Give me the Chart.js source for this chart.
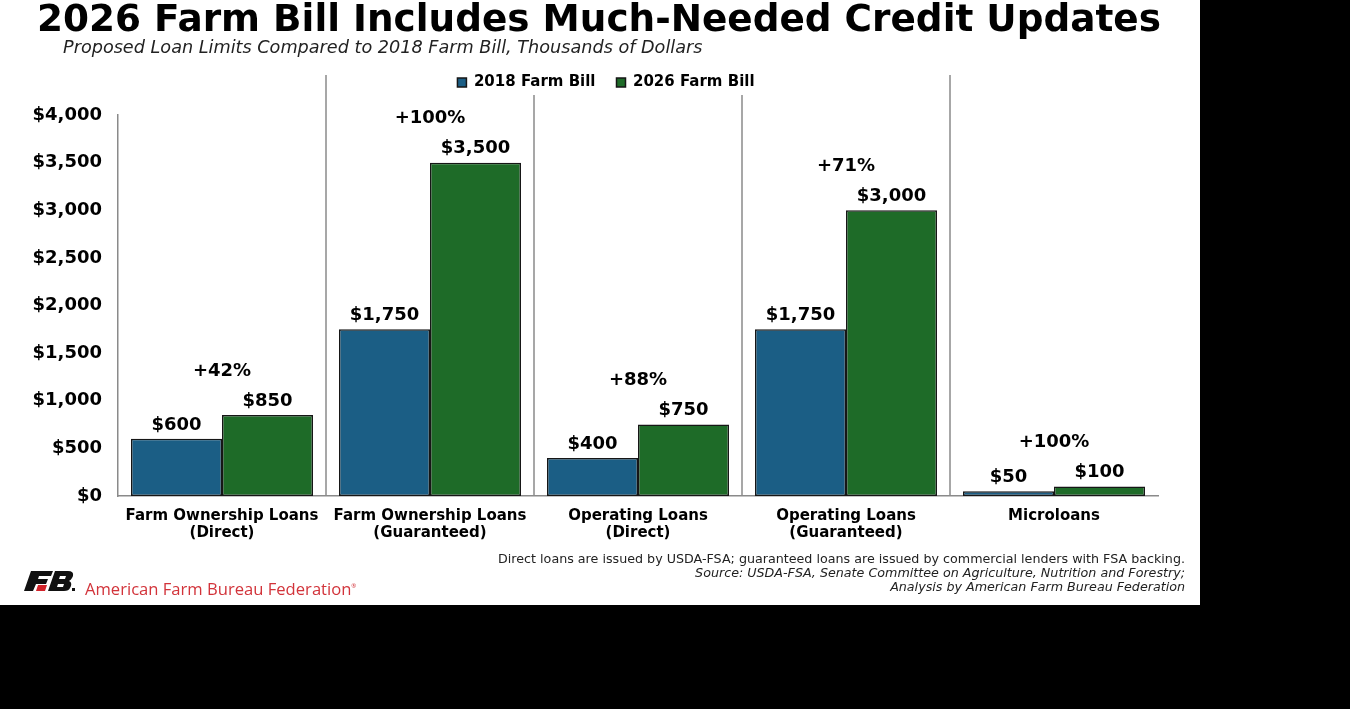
<!DOCTYPE html>
<html>
<head>
<meta charset="utf-8">
<script src="https://cdn.jsdelivr.net/npm/chart.js@4.4.1/dist/chart.umd.min.js"></script>
<style>
    body { margin: 0; background: #000; }
    #card { position: absolute; left: 0; top: 0; width: 1200px; height: 605px; background: #fff; overflow: hidden; }
    #chart { position: absolute; left: 0; top: 0; }
    .txt { position: absolute; font-family: 'DejaVu Sans', sans-serif; color: #000; white-space: nowrap; }
    #title { left: 37px; top: 0; font-size: 37.4px; line-height: 37px; font-weight: bold; }
    #subtitle { left: 63px; top: 39px; font-size: 17.65px; line-height: 17px; font-style: italic; color: #222; }
    #notes { right: 15px; top: 552px; font-size: 12.7px; line-height: 14px; text-align: right; color: #222; }
    #notes i { font-style: italic; }
    #brand { left: 85px; top: 577px; font-family: 'Open Sans', sans-serif; font-size: 16.6px; line-height: 19px; color: #d2333a; }
    #brand sup { font-size: 6px; }
    #logo { position: absolute; left: 22px; top: 570px; }
</style>
</head>
<body>
<div id="card">
    <canvas id="chart" width="1200" height="605"></canvas>
    <div id="title" class="txt">2026 Farm Bill Includes Much-Needed Credit Updates</div>
    <div id="subtitle" class="txt">Proposed Loan Limits Compared to 2018 Farm Bill, Thousands of Dollars</div>
    <div id="notes" class="txt">Direct loans are issued by USDA-FSA; guaranteed loans are issued by commercial lenders with FSA backing.<br><i>Source: USDA-FSA, Senate Committee on Agriculture, Nutrition and Forestry;</i><br><i>Analysis by American Farm Bureau Federation</i></div>
    <svg id="logo" width="56" height="24" viewBox="0 0 56 24">
        <polygon points="9,1 31,1 29,6 17,6 16,9 26,9 24,14 14,14 11,21 2,21" fill="#111"/>
        <polygon points="16,15 25,15 23,21 14,21" fill="#d2232a"/>
        <path d="M33,1 H46 Q52,1 51,6 L50,8 Q49,10 47,11 Q50,12 49,16 L48,18 Q47,21 42,21 H26 Z M38,6 L37,9 H43 L44,6 Z M36,14 L35,17 H41 L42,14 Z" fill="#111" fill-rule="evenodd"/>
        <rect x="50" y="18" width="3" height="3" fill="#111"/>
    </svg>
    <div id="brand" class="txt">American Farm Bureau Federation<sup>®</sup></div>
</div>
<script>
const categories = [
    ['Farm Ownership Loans', '(Direct)'],
    ['Farm Ownership Loans', '(Guaranteed)'],
    ['Operating Loans', '(Direct)'],
    ['Operating Loans', '(Guaranteed)'],
    ['Microloans']
];
const seriesNames = ['2018 Farm Bill', '2026 Farm Bill'];
const limits2018 = [600, 1750, 400, 1750, 50];
const limits2026 = [850, 3500, 750, 3000, 100];
const yMax = 4000;
const yStep = 500;

const money = v => '$' + v.toLocaleString('en-US');

// legend sits a bit right of center and leaves a gap above the plot
const legendPlace = {
    id: 'legendPlace',
    beforeLayout(chart) {
        const lg = chart.legend;
        if (lg && !lg._patched) {
            const fit = lg.fit.bind(lg);
            lg.fit = function () { fit(); this.height += 15; };
            lg._patched = true;
        }
    },
    afterLayout(chart) {
        chart.legend.left += 27;
        chart.legend.right += 27;
    }
};

// vertical separators between the loan groups, drawn up past the plot area
const separators = {
    id: 'separators',
    beforeDatasetsDraw(chart) {
        const {ctx, chartArea, scales: {x}} = chart;
        const boxes = chart.legend.legendHitBoxes;
        const legLeft = boxes[0].left;
        const legRight = boxes[boxes.length - 1].left + boxes[boxes.length - 1].width;
        ctx.save();
        ctx.strokeStyle = '#8a8a8a';
        ctx.lineWidth = 1.5;
        for (let i = 1; i < categories.length; i++) {
            const px = (x.getPixelForValue(i - 1) + x.getPixelForValue(i)) / 2;
            const top = (px > legLeft && px < legRight) ? 95 : 75;
            ctx.beginPath();
            ctx.moveTo(px, top);
            ctx.lineTo(px, chartArea.bottom);
            ctx.stroke();
        }
        ctx.restore();
    }
};

// value labels and percent change labels
const barLabels = {
    id: 'barLabels',
    afterDatasetsDraw(chart) {
        const {ctx, scales: {x, y}} = chart;
        ctx.save();
        ctx.fillStyle = '#000';
        ctx.font = 'bold 18px "DejaVu Sans"';
        ctx.textAlign = 'center';
        ctx.textBaseline = 'middle';
        chart.data.datasets.forEach((ds, di) => {
            chart.getDatasetMeta(di).data.forEach((bar, i) => {
                ctx.fillText(money(ds.data[i]), bar.x, bar.y - 14);
            });
        });
        categories.forEach((c, i) => {
            const pct = Math.round((limits2026[i] - limits2018[i]) / limits2018[i] * 100);
            const top = y.getPixelForValue(Math.max(limits2018[i], limits2026[i]));
            ctx.fillText('+' + pct + '%', x.getPixelForValue(i), top - 44);
        });
        ctx.restore();
    }
};

const config = {
    type: 'bar',
    data: {
        labels: categories,
        datasets: [{
            label: seriesNames[0],
            data: limits2018,
            backgroundColor: '#1b5e85',
            borderColor: '#161616',
            borderWidth: 1.5,
            borderSkipped: false,
            barPercentage: 1,
            categoryPercentage: 0.875
        }, {
            label: seriesNames[1],
            data: limits2026,
            backgroundColor: '#1e6b28',
            borderColor: '#161616',
            borderWidth: 1.5,
            borderSkipped: false,
            barPercentage: 1,
            categoryPercentage: 0.875
        }]
    },
    options: {
        responsive: false,
        animation: false,
        layout: {
            padding: { top: 54, right: 42, left: 0, bottom: 0 }
        },
        scales: {
            y: {
                min: 0,
                max: yMax,
                ticks: {
                    stepSize: yStep,
                    padding: 16,
                    color: '#000',
                    font: { family: 'DejaVu Sans', size: 18, weight: 'bold' },
                    callback: v => money(v)
                },
                grid: { display: false, drawTicks: false },
                border: { display: true, color: '#8a8a8a', width: 1.5 },
                afterFit(scale) { scale.width = 118; }
            },
            x: {
                ticks: {
                    padding: 11,
                    color: '#000',
                    font: { family: 'DejaVu Sans', size: 15, weight: 'bold', lineHeight: 1.15 },
                    maxRotation: 0
                },
                grid: { display: false, drawTicks: false },
                border: { display: true, color: '#8a8a8a', width: 1.5 },
                afterFit(scale) { scale.height = 109; }
            }
        },
        plugins: {
            legend: {
                display: true,
                position: 'top',
                labels: {
                    boxWidth: 9,
                    boxHeight: 9,
                    padding: 21,
                    color: '#000',
                    font: { family: 'DejaVu Sans', size: 15, weight: 'bold' }
                }
            },
            tooltip: { enabled: false }
        }
    },
    plugins: [legendPlace, separators, barLabels]
};

new Chart(document.getElementById('chart').getContext('2d'), config);
</script>
</body>
</html>
